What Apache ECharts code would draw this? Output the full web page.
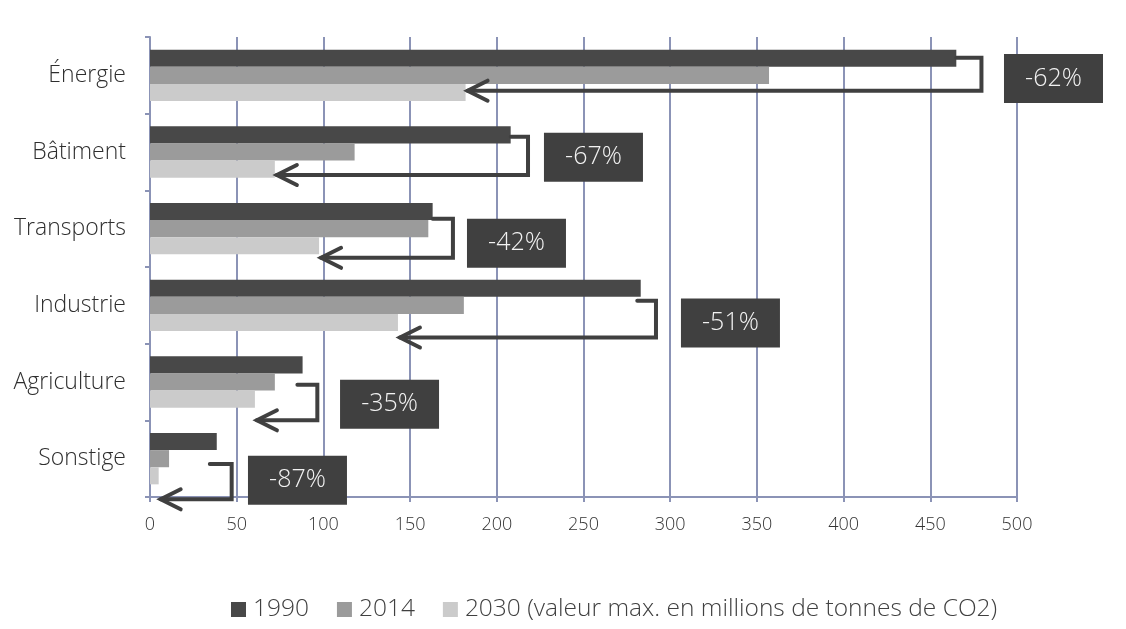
<!DOCTYPE html>
<html>
<head>
<meta charset="utf-8">
<script src="https://cdn.jsdelivr.net/npm/echarts@6/dist/echarts.min.js"></script>
<style>
  html, body { margin: 0; padding: 0; background: #ffffff; }
  #chart { width: 1126px; height: 629px; }
</style>
</head>
<body>
<div id="chart"></div>
<script>
// Émissions par secteur (millions de tonnes de CO2)
const categories = ['Énergie', 'Bâtiment', 'Transports', 'Industrie', 'Agriculture', 'Sonstige'];
const values1990 = [465, 208, 163, 283, 88, 38.5];
const values2014 = [357, 118, 160.5, 181, 72, 11];
const values2030 = [182, 72, 97.5, 143, 60.5, 5];
const changeLabels = ['-62%', '-67%', '-42%', '-51%', '-35%', '-87%'];
const seriesNames = ['1990', '2014', '2030 (valeur max. en millions de tonnes de CO2)'];

// Callout placement: x in axis units, y as a fraction of the category band
const bracketFrom = [465, 208, 163, 281, 85, 34.5];
const bracketTurn = [479.5, 218, 174.7, 291.8, 96.5, 47.1];
const bracketTopFrac = [0.27, 0.30, 0.37, 0.44, 0.535, 0.57];
const bracketBottomFrac = [0.70, 0.80, 0.88, 0.92, 1.0, 1.03];
const boxLeft = [492.5, 227.2, 182.8, 306.2, 109.6, 56.5];
const boxMidFrac = [0.54, 0.57, 0.69, 0.73, 0.79, 0.78];

const FONT = "'Open Sans', 'Noto Sans', sans-serif";
const AXIS_COLOR = '#8b93b6';
const INK = '#404040';
const barColors = ['#484848', '#9b9b9b', '#cbcbcb'];

const chart = echarts.init(document.getElementById('chart'), null, { renderer: 'canvas' });

function renderCallout(params, api) {
  const i = params.dataIndex;
  const center = api.coord([0, i]);
  const band = api.size([0, 1])[1];
  const bandTop = center[1] - band / 2;
  const yTop = bandTop + bracketTopFrac[i] * band;
  const yBottom = bandTop + bracketBottomFrac[i] * band;
  const xFrom = api.coord([bracketFrom[i], i])[0];
  const xTurn = api.coord([bracketTurn[i], i])[0];
  const xTip = api.coord([values2030[i], i])[0] + 2;
  const boxX = api.coord([boxLeft[i], i])[0];
  const boxMid = bandTop + boxMidFrac[i] * band;
  const lineStyle = { stroke: INK, lineWidth: 4, fill: null, lineJoin: 'miter', lineCap: 'round' };
  return {
    type: 'group',
    children: [
      {
        type: 'polyline',
        shape: { points: [[xFrom, yTop], [xTurn, yTop], [xTurn, yBottom], [xTip, yBottom]] },
        style: lineStyle
      },
      {
        type: 'polyline',
        shape: { points: [[xTip + 20, yBottom - 10], [xTip, yBottom], [xTip + 20, yBottom + 10]] },
        style: lineStyle
      },
      {
        type: 'rect',
        shape: { x: boxX, y: boxMid - 24.5, width: 99, height: 49 },
        style: { fill: INK }
      },
      {
        type: 'text',
        x: boxX + 49.5,
        y: boxMid,
        style: {
          text: changeLabels[i],
          fill: '#f2f2f2',
          font: '300 25px ' + FONT,
          align: 'center',
          verticalAlign: 'middle'
        }
      }
    ]
  };
}

const barSeries = [values1990, values2014, values2030].map((vals, k) => ({
  name: seriesNames[k],
  type: 'bar',
  data: vals,
  barGap: '0%',
  barCategoryGap: '33%',
  itemStyle: { color: barColors[k] },
  z: 2
}));

chart.setOption({
  animation: false,
  textStyle: { fontFamily: FONT },
  grid: { left: 150, right: 109, top: 37, bottom: 132, outerBoundsMode: 'none' },
  legend: {
    left: 231,
    top: 597,
    padding: 0,
    icon: 'rect',
    itemWidth: 15,
    itemHeight: 15,
    itemGap: 28,
    data: seriesNames,
    textStyle: { fontFamily: FONT, fontWeight: 300, fontSize: 24.5, color: INK, padding: [0, 0, 0, 2] }
  },
  xAxis: {
    type: 'value',
    min: 0,
    max: 500,
    interval: 50,
    axisLine: { show: true, lineStyle: { color: AXIS_COLOR, width: 2 } },
    axisTick: { show: true, length: 5, lineStyle: { color: AXIS_COLOR, width: 2 } },
    splitLine: { show: true, lineStyle: { color: AXIS_COLOR, width: 2 } },
    axisLabel: { fontFamily: FONT, fontWeight: 300, fontSize: 18, color: '#333333', margin: 19 }
  },
  yAxis: {
    type: 'category',
    inverse: true,
    data: categories,
    axisLine: { show: true, lineStyle: { color: AXIS_COLOR, width: 2 } },
    axisTick: { show: true, length: 5, lineStyle: { color: AXIS_COLOR, width: 2 } },
    axisLabel: { fontFamily: FONT, fontWeight: 300, fontSize: 23, color: '#2e2e2e', margin: 24 }
  },
  series: barSeries.concat([{
    type: 'custom',
    name: 'callouts',
    renderItem: renderCallout,
    data: categories.map((c, i) => [i]),
    encode: { y: 0 },
    clip: false,
    silent: true,
    z: 5
  }])
});
</script>
</body>
</html>
